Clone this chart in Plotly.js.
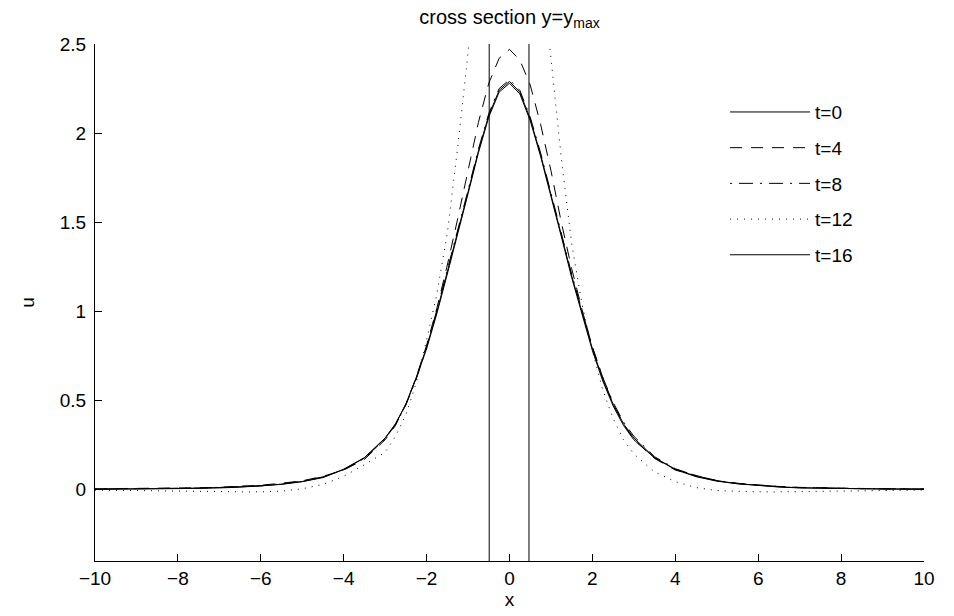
<!DOCTYPE html>
<html>
<head>
<meta charset="utf-8">
<script src="https://cdn.plot.ly/plotly-3.0.1.min.js"></script>
<style>html,body{margin:0;padding:0;background:#fff;}#chart{width:954px;height:616px;}</style>
</head>
<body>
<div id="chart"></div>
<script>
// ---- data ----
var xs = [-10,-9.5,-9,-8.5,-8,-7.5,-7,-6.5,-6,-5.5,-5,-4.5,-4,-3.5,-3,-2.75,-2.5,-2.25,-2,-1.75,-1.5,-1.25,-1,-0.75,-0.5,-0.25,0,0.25,0.5,0.75,1,1.25,1.5,1.75,2,2.25,2.5,2.75,3,3.5,4,4.5,5,5.5,6,6.5,7,7.5,8,8.5,9,9.5,10];

var u_t0 = [0.003,0.003,0.004,0.005,0.006,0.008,0.011,0.015,0.021,0.031,0.046,0.07,0.115,0.18,0.29,0.37,0.48,0.63,0.8,1.0,1.22,1.44,1.67,1.9,2.1,2.24,2.29,2.23,2.08,1.88,1.66,1.43,1.2,0.99,0.79,0.62,0.48,0.37,0.29,0.18,0.115,0.075,0.05,0.034,0.023,0.016,0.011,0.008,0.006,0.005,0.004,0.003,0.003];

var u_t4 = [0.005,0.006,0.004,0.007,0.006,0.01,0.012,0.02,0.025,0.036,0.05,0.075,0.11,0.17,0.28,0.36,0.48,0.63,0.81,1.02,1.26,1.52,1.8,2.06,2.28,2.42,2.47,2.41,2.27,2.05,1.79,1.5,1.24,1.01,0.8,0.63,0.48,0.37,0.28,0.175,0.11,0.078,0.05,0.036,0.025,0.018,0.013,0.01,0.006,0.007,0.005,0.006,0.004];

var u_t8 = [0.004,0.004,0.006,0.005,0.008,0.009,0.012,0.016,0.022,0.033,0.048,0.072,0.112,0.175,0.285,0.365,0.475,0.62,0.8,1.01,1.23,1.45,1.68,1.91,2.11,2.25,2.3,2.24,2.09,1.89,1.67,1.44,1.21,1.0,0.8,0.63,0.49,0.38,0.3,0.185,0.118,0.078,0.052,0.035,0.024,0.017,0.012,0.009,0.007,0.006,0.005,0.004,0.004];

var u_t12 = [-0.002,-0.004,-0.006,-0.008,-0.01,-0.011,-0.012,-0.012,-0.012,-0.008,0.005,0.03,0.075,0.14,0.21,0.3,0.42,0.6,0.84,1.1,1.44,1.92,2.45,2.95,3.3,3.5,3.6,3.5,3.3,2.95,2.42,1.86,1.38,1.04,0.78,0.56,0.4,0.28,0.2,0.1,0.045,0.012,-0.005,-0.01,-0.012,-0.012,-0.011,-0.01,-0.008,-0.006,-0.004,-0.003,-0.002];

var u_t16 = [0.002,0.003,0.003,0.004,0.006,0.007,0.01,0.014,0.02,0.03,0.045,0.068,0.113,0.178,0.288,0.368,0.478,0.625,0.79,0.99,1.21,1.43,1.66,1.89,2.09,2.23,2.28,2.22,2.07,1.87,1.65,1.42,1.19,0.98,0.78,0.61,0.47,0.36,0.28,0.178,0.113,0.073,0.048,0.033,0.022,0.015,0.01,0.008,0.006,0.004,0.004,0.003,0.002];

var seriesNames = ['t=0','t=4','t=8','t=12','t=16'];
var dashStyles = ['solid','12px,9px','2px,7px,14px,7px','1px,6px','solid'];

var vlineX = [-0.49, 0.47];
var xRange = [-10, 10];
var yRange = [-0.4, 2.5];
var xTicks = [-10,-8,-6,-4,-2,0,2,4,6,8,10];
var xTickText = ['\u221210','\u22128','\u22126','\u22124','\u22122','0','2','4','6','8','10'];
var yTicks = [0,0.5,1,1.5,2,2.5];
var yTickText = ['0','0.5','1','1.5','2','2.5'];

var allU = [u_t0,u_t4,u_t8,u_t12,u_t16];
var traces = [];
for (var i = 0; i < allU.length; i++) {
  traces.push({
    x: xs, y: allU[i], type: 'scatter', mode: 'lines', name: seriesNames[i],
    legendgroup: 'g' + i,
    line: {color: '#000', width: 1, dash: dashStyles[i]}
  });
}
for (var j = 0; j < vlineX.length; j++) {
  traces.push({
    x: [vlineX[j], vlineX[j]], y: yRange, type: 'scatter', mode: 'lines',
    showlegend: false, hoverinfo: 'skip',
    line: {color: '#000', width: 1}
  });
}

var fam = '"Liberation Sans", Arial, Helvetica, sans-serif';
var fs = 19;

var layout = {
  width: 954, height: 616,
  paper_bgcolor: '#fff', plot_bgcolor: '#fff',
  margin: {l: 95, r: 30, t: 44, b: 55, pad: 0},
  font: {family: fam, size: fs, color: '#000'},
  showlegend: true,
  title: {
    text: 'cross section y=y<sub>max</sub>',
    font: {family: fam, size: 20, color: '#000'},
    x: 0.5, xref: 'paper', xanchor: 'center',
    y: 0.972, yref: 'container', yanchor: 'middle'
  },
  xaxis: {
    range: xRange, tickvals: xTicks, ticktext: xTickText,
    ticks: 'inside', ticklen: 7, tickwidth: 1, tickcolor: '#000',
    showline: true, linecolor: '#000', linewidth: 1, mirror: false,
    showgrid: false, zeroline: false,
    title: {text: 'x', font: {family: fam, size: fs, color: '#000'}, standoff: 0},
    tickfont: {family: fam, size: fs, color: '#000'}
  },
  yaxis: {
    range: yRange, tickvals: yTicks, ticktext: yTickText,
    ticks: 'inside', ticklen: 7, tickwidth: 1, tickcolor: '#000',
    showline: true, linecolor: '#000', linewidth: 1, mirror: false,
    showgrid: false, zeroline: false, ticklabelstandoff: 4,
    title: {text: 'u', font: {family: fam, size: fs, color: '#000'}, standoff: 20},
    tickfont: {family: fam, size: fs, color: '#000'}
  },
  legend: {
    x: 0.76, y: 0.905, xanchor: 'left', yanchor: 'top',
    bgcolor: 'rgba(255,255,255,0)', borderwidth: 0,
    font: {family: fam, size: fs, color: '#000'},
    itemwidth: 80, tracegroupgap: 8
  }
};

Plotly.newPlot('chart', traces, layout, {displayModeBar: false, staticPlot: true});
</script>
</body>
</html>
